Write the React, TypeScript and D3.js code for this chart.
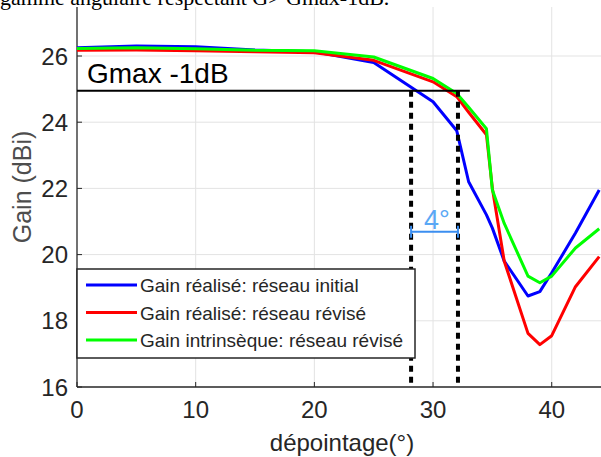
import React from "react";
import * as d3 from "d3";

const angles = [0, 5, 10, 15, 20, 25, 30, 32, 33, 34.5, 35, 36, 38, 39, 40, 42, 44];
const gainInitial = [26.25, 26.3, 26.28, 26.18, 26.13, 25.8, 24.62, 23.74, 22.2, 21.2, 20.8, 19.8, 18.75, 18.88, 19.45, 20.65, 21.95];
const gainRevised = [26.17, 26.18, 26.16, 26.13, 26.1, 25.87, 25.22, 24.77, 24.3, 23.62, 22.0, 19.8, 17.62, 17.28, 17.55, 19.03, 19.94];
const gainIntrinsic = [26.23, 26.25, 26.22, 26.17, 26.16, 25.97, 25.32, 24.87, 24.45, 23.8, 21.95, 20.94, 19.35, 19.15, 19.35, 20.2, 20.78];

const seriesNames = [
  "Gain réalisé: réseau initial",
  "Gain réalisé: réseau révisé",
  "Gain intrinsèque: réseau révisé",
];
const seriesColors = ["#0000ff", "#ff0000", "#00ff00"];

const xTicks = [0, 10, 20, 30, 40];
const yTicks = [16, 18, 20, 22, 24, 26];

const gmaxLevel = 24.95;
const gmaxLineEnd = 33.1;
const dottedAngles = [28.15, 32.1];
const spanLabel = "4°";
const spanLevel = 20.69;

const topText = "gamme angulaire respectant G> Gmax-1dB.";

export default function App() {
  const W = 601;
  const H = 457;
  const x = d3.scaleLinear().domain([0, 44]).range([77, 599.2]);
  const y = d3.scaleLinear().domain([16, 26]).range([387, 56]);
  const font = "'Liberation Sans', Arial, sans-serif";
  const axisColor = "#262626";
  const gridColor = "#e3e3e3";

  const line = d3
    .line<number>()
    .x((_, i) => x(angles[i]))
    .y((d) => y(d));

  const series = [gainInitial, gainRevised, gainIntrinsic];

  const legX = 77;
  const legY = 269;
  const legW = 338;
  const legH = 89;
  const rowY = [285, 312.5, 340];

  return (
    <svg
      width={W}
      height={H}
      style={{ position: "absolute", left: 0, top: 0, background: "#fff" }}
    >
      <rect x={0} y={0} width={W} height={H} fill="#fff" />
      {/* grid */}
      {xTicks
        .filter((t) => t !== 0)
        .map((t) => (
          <line key={"gx" + t} x1={x(t)} x2={x(t)} y1={0} y2={y(16)} stroke={gridColor} strokeWidth={1} />
        ))}
      {yTicks
        .filter((t) => t !== 16)
        .map((t) => (
          <line key={"gy" + t} x1={x(0)} x2={W} y1={y(t)} y2={y(t)} stroke={gridColor} strokeWidth={1} />
        ))}
      {/* axes */}
      <line x1={x(0)} x2={x(0)} y1={0} y2={y(16)} stroke={axisColor} strokeWidth={1.3} />
      <line x1={x(0)} x2={W} y1={y(16)} y2={y(16)} stroke={axisColor} strokeWidth={1.3} />
      {xTicks.map((t) => (
        <g key={"tx" + t}>
          <line x1={x(t)} x2={x(t)} y1={y(16)} y2={y(16) - 5} stroke={axisColor} strokeWidth={1} />
          <text x={x(t)} y={418} textAnchor="middle" fontFamily={font} fontSize={24} fill={axisColor}>
            {t}
          </text>
        </g>
      ))}
      {yTicks.map((t) => (
        <g key={"ty" + t}>
          <line x1={x(0)} x2={x(0) + 5} y1={y(t)} y2={y(t)} stroke={axisColor} strokeWidth={1} />
          <text x={68} y={y(t) + 8.5} textAnchor="end" fontFamily={font} fontSize={24} fill={axisColor}>
            {t}
          </text>
        </g>
      ))}
      <text x={342} y={451} textAnchor="middle" fontFamily={font} fontSize={24} fill={axisColor}>
        dépointage(°)
      </text>
      <text
        transform={`translate(31, 187) rotate(-90)`}
        textAnchor="middle"
        fontFamily={font}
        fontSize={25}
        fill="#4d4d4d"
      >
        Gain (dBi)
      </text>

      {/* curves */}
      {series.map((s, i) => (
        <path
          key={"s" + i}
          d={line(s) || ""}
          fill="none"
          stroke={seriesColors[i]}
          strokeWidth={3}
          strokeLinejoin="round"
        />
      ))}

      {/* Gmax -1dB line */}
      <line x1={x(0)} x2={x(gmaxLineEnd)} y1={y(gmaxLevel)} y2={y(gmaxLevel)} stroke="#000" strokeWidth={2} />
      <text x={87} y={83} fontFamily={font} fontSize={28} fill="#000">
        Gmax -1dB
      </text>
      {dottedAngles.map((a) => (
        <line
          key={"d" + a}
          x1={x(a)}
          x2={x(a)}
          y1={y(gmaxLevel)}
          y2={y(16)}
          stroke="#000"
          strokeWidth={4}
          strokeDasharray="6,5"
        />
      ))}

      {/* 4° span */}
      <line x1={x(dottedAngles[0])} x2={x(dottedAngles[1])} y1={y(spanLevel)} y2={y(spanLevel)} stroke="#3b8ef0" strokeWidth={2} />
      {dottedAngles.map((a) => (
        <line key={"c" + a} x1={x(a)} x2={x(a)} y1={y(spanLevel) - 6} y2={y(spanLevel) + 6} stroke="#3b8ef0" strokeWidth={2} />
      ))}
      <text x={424} y={229} fontFamily={font} fontSize={27} fill="#5aa8f5">
        {spanLabel}
      </text>

      {/* legend */}
      <rect x={legX} y={legY} width={legW} height={legH} fill="#fff" stroke={axisColor} strokeWidth={1.5} />
      {seriesNames.map((n, i) => (
        <g key={"l" + i}>
          <line x1={86} x2={137} y1={rowY[i]} y2={rowY[i]} stroke={seriesColors[i]} strokeWidth={3} />
          <text x={140} y={rowY[i] + 7} fontFamily={font} fontSize={19} fill={axisColor}>
            {n}
          </text>
        </g>
      ))}

      {/* cropped document text on top */}
      <rect x={0} y={0} width={W} height={7} fill="#fff" />
      <text x={0} y={5} fontFamily="'Liberation Serif', 'Times New Roman', serif" fontSize={22} fill="#000">
        {topText}
      </text>
    </svg>
  );
}
